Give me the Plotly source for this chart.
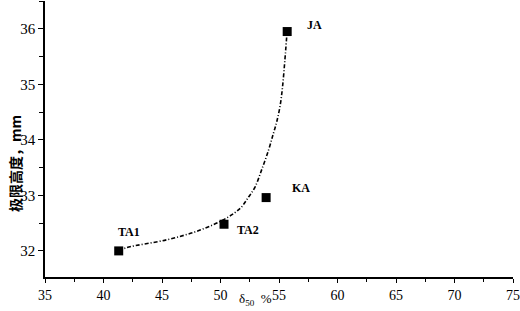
import plotly.graph_objects as go

# Measured points
point_names = ["TA1", "TA2", "KA", "JA"]
point_x = [41.3, 50.3, 53.9, 55.7]
point_y = [32.0, 32.48, 32.96, 35.95]

# Dash-dot guide curve
curve_x = [41.3, 42.0, 45.4, 48.2, 50.5, 51.7, 52.4, 52.95, 53.5, 54.1, 54.5, 54.8, 55.1, 55.3, 55.5, 55.68]
curve_y = [32.0, 32.06, 32.20, 32.37, 32.59, 32.77, 32.97, 33.15, 33.45, 33.81, 34.1, 34.32, 34.62, 34.95, 35.43, 35.92]

# Label positions (text centres)
label_x = [42.2, 52.35, 56.9, 58.0]
label_y = [32.34, 32.38, 33.13, 36.07]

x_ticks = [35, 40, 45, 50, 55, 60, 65, 70, 75]
y_ticks = [32, 33, 34, 35, 36]

serif = "Liberation Serif, Times New Roman, serif"

fig = go.Figure()
fig.add_trace(go.Scatter(
    x=curve_x, y=curve_y, mode="lines",
    line=dict(color="black", width=1.6, dash="4px,2px,1px,2px", shape="spline", smoothing=1.0),
    hoverinfo="skip", showlegend=False))
fig.add_trace(go.Scatter(
    x=point_x, y=point_y, mode="markers",
    marker=dict(symbol="square", size=9, color="black"),
    showlegend=False))

for name, lx, ly in zip(point_names, label_x, label_y):
    fig.add_annotation(x=lx, y=ly, text="<b>" + name + "</b>", showarrow=False,
                       font=dict(family=serif, size=12, color="black"),
                       xanchor="center", yanchor="middle")

fig.add_annotation(xref="paper", yref="paper", x=-0.064, y=0.41,
                   text="<b>极限高度，mm</b>", textangle=-90, showarrow=False,
                   font=dict(family="Noto Sans CJK SC", size=14, color="black"),
                   xanchor="center", yanchor="middle")
fig.add_annotation(xref="paper", yref="paper", x=0.449, y=-0.045,
                   text="δ<sub>50</sub>  %", showarrow=False,
                   font=dict(family=serif, size=13, color="black"),
                   xanchor="center", yanchor="top")

fig.update_xaxes(range=[35, 75], tickvals=x_ticks, ticktext=[str(v) for v in x_ticks],
                 showgrid=False, zeroline=False, showline=True, linecolor="black", linewidth=1.5,
                 ticks="outside", ticklen=4, tickwidth=1.3, tickcolor="black",
                 minor=dict(dtick=2.5, ticks="outside", ticklen=3, tickcolor="black", tickwidth=1.2),
                 tickfont=dict(family=serif, size=14, color="black"))
fig.update_yaxes(range=[31.53, 36.5], tickvals=y_ticks, ticktext=[str(v) for v in y_ticks],
                 showgrid=False, zeroline=False, showline=True, linecolor="black", linewidth=1.5,
                 ticks="outside", ticklen=5, tickwidth=1.3, tickcolor="black",
                 minor=dict(dtick=0.5, ticks="outside", ticklen=4, tickcolor="black", tickwidth=1.2),
                 tickfont=dict(family=serif, size=15, color="black"))

fig.update_layout(width=520, height=311, margin=dict(l=45, r=7, t=1, b=34),
                  plot_bgcolor="white", paper_bgcolor="white")

fig.write_html("out.html")
